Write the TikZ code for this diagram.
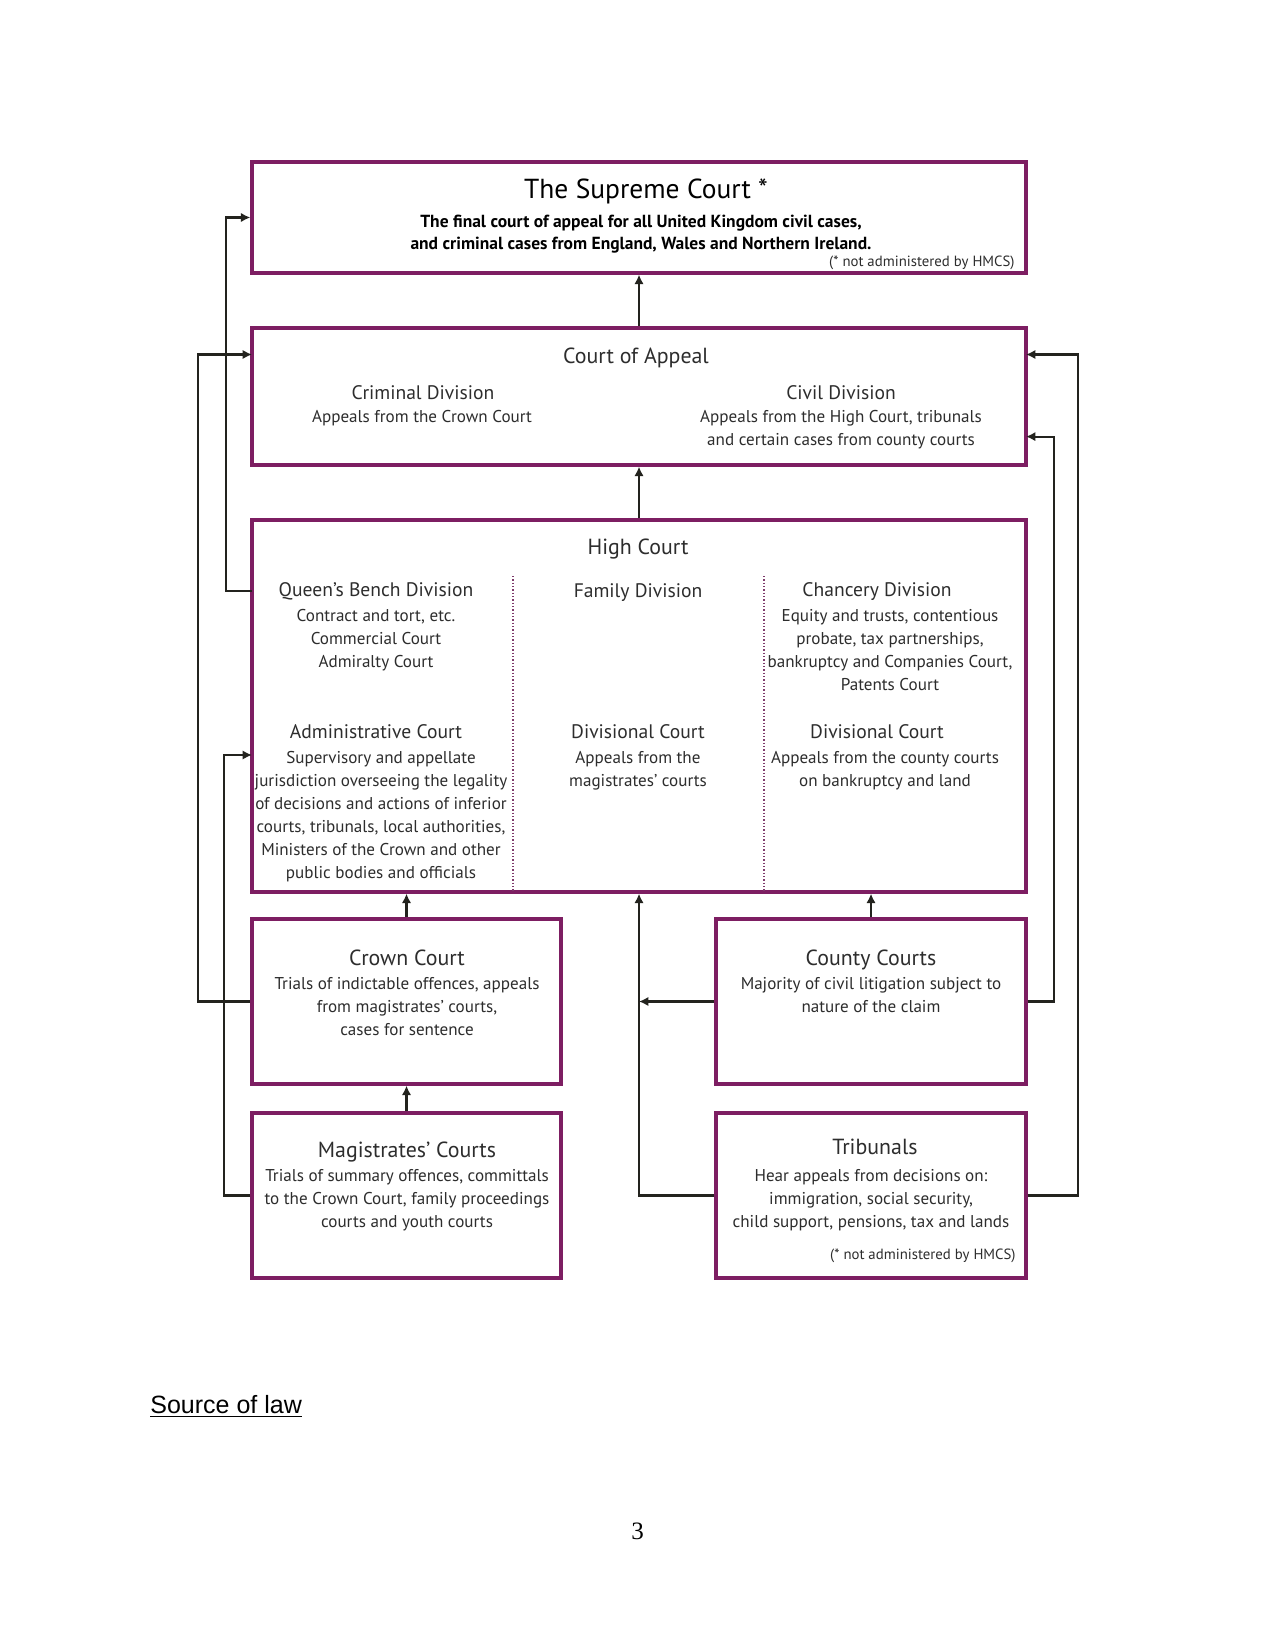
\documentclass[tikz,border=0pt]{standalone}
\usepackage{fontspec}
\setmainfont{PT Sans}
\newfontfamily\arialf{Liberation Sans}
\newfontfamily\timesf{Liberation Serif}
\usetikzlibrary{arrows.meta,fit}
\definecolor{plum}{RGB}{125,30,98}
\definecolor{ink}{RGB}{35,35,30}
\definecolor{gtext}{RGB}{45,45,45}
\begin{document}
\begin{tikzpicture}[x=0.48pt,y=-0.48pt,
  box/.style={draw=plum,line width=1.6pt,inner sep=0pt},
  conn/.style={draw=ink,line width=1.05pt},
  arr/.style={conn,-{Latex[length=4.5pt,width=4.5pt]}},
  divider/.style={draw=plum!70!gray,line width=0.6pt,densely dotted},
  ttl/.style={font=\fontsize{10.5}{12}\selectfont,text=gtext,inner sep=0pt,anchor=base},
  sub/.style={font=\fontsize{9.4}{11}\selectfont,text=gtext,inner sep=0pt,anchor=base},
  txt/.style={font=\fontsize{8.2}{11.1}\selectfont,text=gtext,align=center,inner sep=0pt,anchor=base},
  note/.style={font=\fontsize{7.1}{8}\selectfont,text=gtext,inner sep=0pt,anchor=base east}]
\useasboundingbox (0,0) rectangle (1275,1650);
\fill[white] (0,0) rectangle (1275,1650);

% boxes
\node[box,fit={(252,162) (1026,273)}] (sc) {};
\node[box,fit={(252,328) (1026,465)}] (coa) {};
\node[box,fit={(252,520) (1026,892)}] (hc) {};
\node[box,fit={(252,919) (561,1084)}] (crown) {};
\node[box,fit={(716,919) (1026,1084)}] (county) {};
\node[box,fit={(252,1113) (561,1278)}] (mag) {};
\node[box,fit={(716,1113) (1026,1278)}] (trib) {};

% dividers in High Court
\coordinate (d1t) at (513,576); \coordinate (d1b) at (513,892);
\coordinate (d2t) at (764,576); \coordinate (d2b) at (764,892);
\draw[divider] (d1t) -- (d1b);
\draw[divider] (d2t) -- (d2b);

% Supreme Court text (multi-line nodes: base = last baseline)
\node[ttl,font=\fontsize{13.2}{15}\selectfont,text=black] (sct) at (646,198.5) {The Supreme Court *};
\node[txt,font=\fontsize{8.4}{10.6}\selectfont\bfseries,text=black] (scb) at (641,249.5)
  {The final court of appeal for all United Kingdom civil cases,\\and criminal cases from England, Wales and Northern Ireland.};
\node[note] (scn) at (1015,266.5) {(* not administered by HMCS)};

% Court of Appeal text
\node[ttl] (coat) at (636,363.5) {Court of Appeal};
\node[sub] (crimt) at (423,399.5) {Criminal Division};
\node[txt] (crimb) at (422,422.5) {Appeals from the Crown Court};
\node[sub] (civt) at (841,399.5) {Civil Division};
\node[txt] (civb) at (841,445.6) {Appeals from the High Court, tribunals\\and certain cases from county courts};

% High Court text
\node[ttl] (hct) at (638,554.5) {High Court};
\node[sub] (qbt) at (376,596.5) {Queen’s Bench Division};
\node[txt] (qbb) at (376,667.7) {Contract and tort, etc.\\Commercial Court\\Admiralty Court};
\node[sub] (famt) at (638,597.5) {Family Division};
\node[sub] (cht) at (877,596.5) {Chancery Division};
\node[txt] (chb) at (890,690.9) {Equity and trusts, contentious\\probate, tax partnerships,\\bankruptcy and Companies Court,\\Patents Court};
\node[sub] (admt) at (376,738.5) {Administrative Court};
\node[txt] (admb) at (381,878.7) {Supervisory and appellate\\jurisdiction overseeing the legality\\of decisions and actions of inferior\\courts, tribunals, local authorities,\\Ministers of the Crown and other\\public bodies and officials};
\node[sub] (dv1t) at (638,738.5) {Divisional Court};
\node[txt] (dv1b) at (638,786.2) {Appeals from the\\magistrates’ courts};
\node[sub] (dv2t) at (877,738.5) {Divisional Court};
\node[txt] (dv2b) at (885,786.2) {Appeals from the county courts\\on bankruptcy and land};

% lower boxes text
\node[ttl] (crt) at (407,965) {Crown Court};
\node[txt] (crb) at (407,1035.5) {Trials of indictable offences, appeals\\from magistrates’ courts,\\cases for sentence};
\node[ttl] (cot) at (871,965) {County Courts};
\node[txt] (cob) at (871,1012.4) {Majority of civil litigation subject to\\nature of the claim};
\node[ttl] (mgt) at (407,1157.5) {Magistrates’ Courts};
\node[txt] (mgb) at (407,1227.7) {Trials of summary offences, committals\\to the Crown Court, family proceedings\\courts and youth courts};
\node[ttl] (trt) at (875,1154.5) {Tribunals};
\node[txt] (trb) at (871,1227.7) {Hear appeals from decisions on:\\immigration, social security,\\child support, pensions, tax and lands};
\node[note] (trn) at (1016,1259.5) {(* not administered by HMCS)};

% connector end points on box sides
\coordinate (qbL) at (252,591);
\coordinate (coaL) at (252,354.5);
\coordinate (hcL) at (252,755);
\coordinate (coaR1) at (1026,354.5);
\coordinate (coaR2) at (1026,436.6);

% vertical arrows
\draw[arr] (coa.north) -- (sc.south);
\draw[arr] (hc.north) -- (coa.south);
\draw[arr] (crown.north) -- (crown.north |- hc.south);
\draw[arr] (county.north) -- (county.north |- hc.south);
\draw[arr] (mag.north) -- (crown.south);
\draw[arr] (trib.west) -| (hc.south);
\draw[arr] (county.west) -- (county.west -| hc.south);

% side routes
\draw[arr] (qbL) -- ++(-26,0) |- (sc.west);
\draw[arr] (crown.west) -- ++(-52,0) |- (coaL);
\draw[arr] (mag.west) -- ++(-26,0) |- (hcL);
\draw[arr] (county.east) -- ++(26,0) |- (coaR2);
\draw[arr] (trib.east) -- ++(50,0) |- (coaR1);

% page text
\node[font=\arialf\fontsize{12}{14}\selectfont,inner sep=0pt,anchor=base west] (src) at (150,1413) {\underline{Source of law}};
\node[font=\timesf\fontsize{12}{14}\selectfont,inner sep=0pt,anchor=base] (pg) at (637.5,1539) {3};
\end{tikzpicture}
\end{document}
